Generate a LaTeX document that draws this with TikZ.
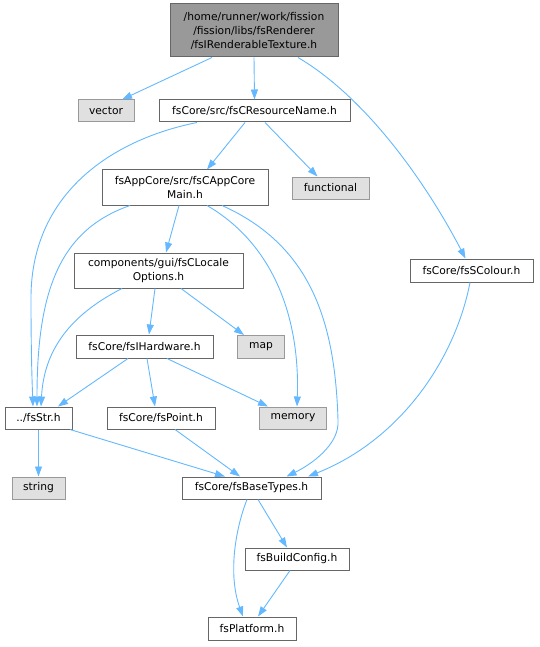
\documentclass[tikz,border=0pt]{standalone}
\usepackage{fontspec}
\setmainfont{DejaVu Sans}
\usetikzlibrary{arrows.meta}
\definecolor{edgecol}{HTML}{63B8FF}
\definecolor{bordercol}{HTML}{666666}
\definecolor{extborder}{HTML}{999999}
\definecolor{extfill}{HTML}{E0E0E0}
\definecolor{rootfill}{HTML}{999999}
\begin{document}
\begin{tikzpicture}[x=1pt,y=-1pt,
  every node/.style={font=\fontsize{10.7}{14}\selectfont, inner sep=0pt, align=center},
  filebox/.style={draw=bordercol, fill=white, line width=1pt},
  extbox/.style={draw=extborder, fill=extfill, line width=1pt},
  rootbox/.style={draw=bordercol, fill=rootfill, line width=1pt},
  dep/.style={draw=edgecol, line width=0.9pt, -{Triangle[length=10pt,width=7pt]}}
]
\useasboundingbox (0,0) rectangle (539,647);
% nodes
\node[rootbox, minimum width=168pt, minimum height=53pt] (root) at (254,30.5) {/home/runner/work/fission\\/fission/libs/fsRenderer\\/fsIRenderableTexture.h};
\node[extbox, minimum width=56pt, minimum height=22pt] (vector) at (106,111) {vector};
\node[filebox, minimum width=191pt, minimum height=22pt] (res) at (254.5,111) {fsCore/src/fsCResourceName.h};
\node[filebox, minimum width=166pt, minimum height=35pt] (app) at (185,187.5) {fsAppCore/src/fsCAppCore\\Main.h};
\node[extbox, minimum width=77pt, minimum height=22pt] (func) at (330.5,188) {functional};
\node[filebox, minimum width=169pt, minimum height=35pt] (loc) at (158.5,270.5) {components/gui/fsCLocale\\Options.h};
\node[filebox, minimum width=123pt, minimum height=23pt] (col) at (471.5,270.5) {fsCore/fsSColour.h};
\node[filebox, minimum width=137pt, minimum height=23pt] (hw) at (144.5,346.5) {fsCore/fsIHardware.h};
\node[extbox, minimum width=47pt, minimum height=23pt] (map) at (261,347) {map};
\node[filebox, minimum width=67pt, minimum height=22pt] (str) at (38.5,418) {../fsStr.h};
\node[filebox, minimum width=108pt, minimum height=22pt] (pt) at (161,418) {fsCore/fsPoint.h};
\node[extbox, minimum width=67pt, minimum height=22pt] (mem) at (293,418) {memory};
\node[extbox, minimum width=53pt, minimum height=22pt] (string) at (38.5,488) {string};
\node[filebox, minimum width=139pt, minimum height=22pt] (base) at (251.5,488) {fsCore/fsBaseTypes.h};
\node[filebox, minimum width=104pt, minimum height=22pt] (build) at (297,559) {fsBuildConfig.h};
\node[filebox, minimum width=88pt, minimum height=23pt] (plat) at (252,628.5) {fsPlatform.h};
% edges
\draw[dep] ([xshift=-42pt]root.south) -- ([xshift=16pt]vector.north);
\draw[dep] (root.south) -- (res.north);
\draw[dep] ([xshift=44pt]root.south) .. controls (370,100) and (430,190) .. ([xshift=-6pt]col.north);
\draw[dep] ([xshift=-9.5pt]res.south) -- ([xshift=22pt]app.north);
\draw[dep] ([xshift=10.5pt]res.south) -- ([xshift=-13pt]func.north);
\draw[dep] ([xshift=-57.5pt]res.south) .. controls (110,140) and (30,195) .. (31,300) .. controls (31,350) and (32,380) .. ([xshift=-5.5pt]str.north);
\draw[dep] ([xshift=-6pt]app.south) -- ([xshift=7.5pt]loc.north);
\draw[dep] ([xshift=-55pt]app.south) .. controls (60,230) and (37,290) .. ([xshift=-1.5pt]str.north);
\draw[dep] ([xshift=22pt]app.south) .. controls (275,245) and (300,320) .. ([xshift=4pt]mem.north);
\draw[dep] ([xshift=37pt]app.south) .. controls (310,245) and (335,320) .. (338,420) .. controls (340,445) and (310,465) .. ([xshift=35pt]base.north);
\draw[dep] ([xshift=-3.5pt]loc.south) -- ([xshift=4.5pt]hw.north);
\draw[dep] ([xshift=22.5pt]loc.south) -- ([xshift=-17pt]map.north);
\draw[dep] ([xshift=-36.5pt]loc.south) .. controls (70,315) and (44,350) .. ([xshift=2.5pt]str.north);
\draw[dep] ([xshift=-16.5pt]hw.south) -- ([xshift=19.5pt]str.north);
\draw[dep] ([xshift=2.5pt]hw.south) -- ([xshift=-6pt]pt.north);
\draw[dep] ([xshift=22.5pt]hw.south) -- ([xshift=-25pt]mem.north);
\draw[dep] (str.south) -- (string.north);
\draw[dep] ([xshift=31.5pt]str.south) -- ([xshift=-26.5pt]base.north);
\draw[dep] ([xshift=14pt]pt.south) -- ([xshift=-11.5pt]base.north);
\draw[dep] ([xshift=-1.5pt]col.south) .. controls (455,360) and (400,440) .. ([xshift=56.5pt]base.north);
\draw[dep] ([xshift=6.5pt]base.south) -- ([xshift=-10pt]build.north);
\draw[dep] ([xshift=-4.5pt]base.south) .. controls (235,530) and (228,575) .. ([xshift=-9pt]plat.north);
\draw[dep] ([xshift=-7pt]build.south) -- ([xshift=6pt]plat.north);
\end{tikzpicture}
\end{document}
